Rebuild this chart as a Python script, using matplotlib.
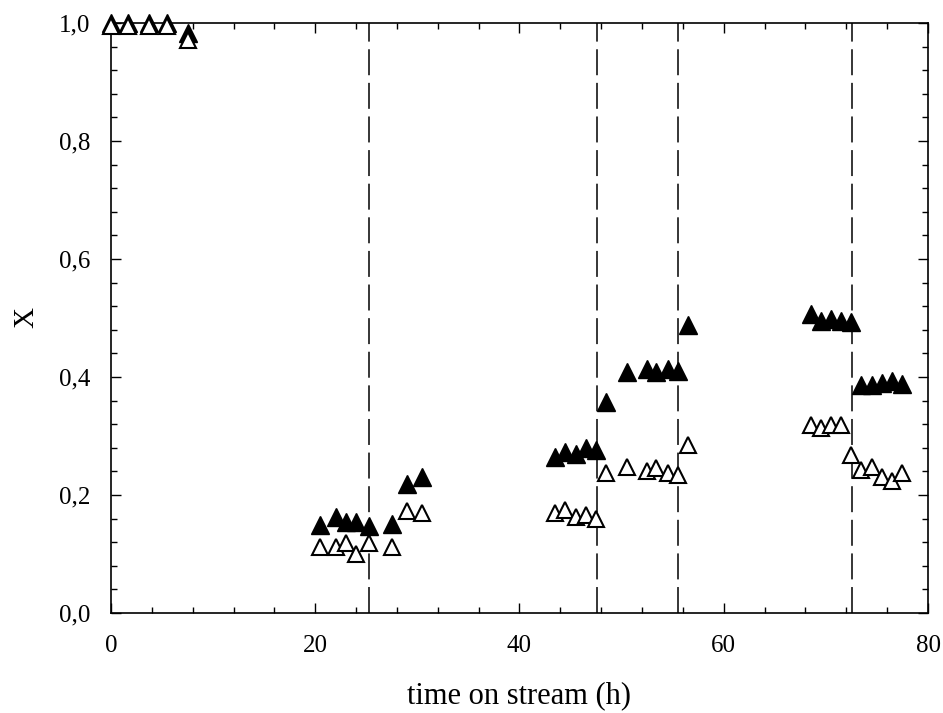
import matplotlib
matplotlib.use("Agg")
import matplotlib.pyplot as plt
from matplotlib.ticker import MultipleLocator, FuncFormatter

# time on stream (h) for each measurement
time_h = [0.0, 1.7, 3.7, 5.5, 7.5,
          20.5, 22.0, 23.0, 24.0, 25.3, 27.5, 29.0, 30.5,
          43.5, 44.5, 45.5, 46.5, 47.5, 48.5, 50.5, 52.5, 53.4, 54.5, 55.5, 56.5,
          68.5, 69.5, 70.5, 71.5, 72.5, 73.4, 74.5, 75.5, 76.5, 77.5]

# conversion, filled symbols
x_filled = [1.0, 1.0, 1.0, 1.0, 0.983,
            0.149, 0.163, 0.155, 0.155, 0.147, 0.151, 0.219, 0.231,
            0.265, 0.273, 0.269, 0.280, 0.276, 0.358, 0.409, 0.413, 0.409, 0.413, 0.411, 0.488,
            0.507, 0.495, 0.498, 0.495, 0.493, 0.386, 0.386, 0.389, 0.394, 0.388]

# conversion, open symbols
x_open = [0.995, 0.995, 0.995, 0.995, 0.972,
          0.112, 0.112, 0.119, 0.100, 0.119, 0.112, 0.172, 0.169,
          0.169, 0.175, 0.163, 0.166, 0.159, 0.237, 0.248, 0.241, 0.245, 0.237, 0.234, 0.284,
          0.319, 0.313, 0.319, 0.319, 0.267, 0.242, 0.248, 0.230, 0.223, 0.238]

# times at which operating conditions were changed
switch_times = [25.3, 47.6, 55.5, 72.6]

plt.rcParams['font.family'] = ['Liberation Serif', 'DejaVu Serif']

fig = plt.figure(figsize=(9.43, 7.13), dpi=100)
ax = fig.add_axes([0.1177, 0.1403, 0.8664, 0.8274])

for t in switch_times:
    ax.axvline(t, color='black', linewidth=1.1, dashes=(17, 5), zorder=1)

ax.plot(time_h, x_filled, linestyle='none', marker='^', markersize=12.5,
        markerfacecolor='black', markeredgecolor='black', markeredgewidth=1.0,
        zorder=3, clip_on=False)
ax.plot(time_h, x_open, linestyle='none', marker='^', markersize=12,
        markerfacecolor='white', markeredgecolor='black', markeredgewidth=1.5,
        zorder=4, clip_on=False)

ax.set_xlim(0, 80)
ax.set_ylim(0, 1.0)
ax.xaxis.set_major_locator(MultipleLocator(20))
ax.xaxis.set_minor_locator(MultipleLocator(4))
ax.yaxis.set_major_locator(MultipleLocator(0.2))
ax.yaxis.set_minor_locator(MultipleLocator(0.04))
ax.yaxis.set_major_formatter(FuncFormatter(lambda v, p: f"{v:.1f}".replace('.', ',')))

ax.tick_params(which='both', direction='in', top=True, right=True, width=1.0,
               labelsize=18)
ax.tick_params(which='major', length=7)
ax.tick_params(which='minor', length=4)
ax.tick_params(axis='x', which='major', pad=16)
ax.tick_params(axis='y', which='major', pad=15)
for s in ax.spines.values():
    s.set_linewidth(1.2)

ax.set_xlabel('time on stream (h)', fontsize=22, labelpad=17)
ax.set_ylabel('X', fontsize=21, labelpad=14)

fig.savefig('out.png', dpi=100)
